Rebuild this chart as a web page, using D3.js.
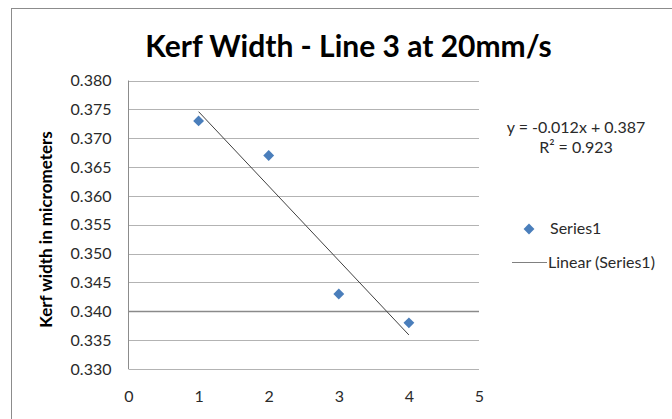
<!DOCTYPE html>
<html>
<head>
<meta charset="utf-8">
<script src="https://cdn.jsdelivr.net/npm/d3@7"></script>
<style>
  html, body { margin: 0; padding: 0; background: #fff; }
  svg { display: block; font-family: Lato, "Open Sans", sans-serif; }
</style>
</head>
<body>
<svg id="chart" width="672" height="419"></svg>
<script>
// Measured kerf widths per sample
const samples = [1, 2, 3, 4];
const kerfWidth = [0.373, 0.367, 0.343, 0.338];
const xTicks = [0, 1, 2, 3, 4, 5];
const yTicks = [0.330, 0.335, 0.340, 0.345, 0.350, 0.355, 0.360, 0.365, 0.370, 0.375, 0.380];
const titleText = "Kerf Width - Line 3 at 20mm/s";
const yAxisTitle = "Kerf width in micrometers";
const seriesName = "Series1";
const trendName = "Linear (Series1)";

const svg = d3.select("#chart");
const plot = { left: 128.5, right: 479, top: 80.5, bottom: 369 };
const labelFont = "Lato, 'Open Sans', sans-serif";

const x = d3.scaleLinear().domain([0, 5]).range([plot.left, plot.right]);
const y = d3.scaleLinear().domain([0.330, 0.380]).range([plot.bottom, plot.top]);

// Chart frame
svg.append("rect")
  .attr("x", 11.5).attr("y", 8.5).attr("width", 700).attr("height", 500)
  .attr("fill", "#fff").attr("stroke", "#8c8c8c").attr("stroke-width", 1);

// Title
svg.append("text")
  .attr("x", 348.5).attr("y", 57)
  .attr("text-anchor", "middle")
  .attr("font-size", 30).attr("font-weight", "bold")
  .attr("fill", "#000")
  .text(titleText);

// Horizontal gridlines (the 0.340 line is drawn a little heavier)
const isAxisLine = d => Math.abs(d - 0.340) < 1e-9;
svg.append("g")
  .selectAll("line")
  .data(yTicks)
  .join("line")
  .attr("x1", plot.left).attr("x2", plot.right)
  .attr("y1", d => Math.round(y(d)) + 0.5).attr("y2", d => Math.round(y(d)) + 0.5)
  .attr("stroke", d => isAxisLine(d) ? "#8a8a8a" : "#b3b3b3")
  .attr("stroke-width", d => isAxisLine(d) ? 1.6 : 1);

// Vertical axis line
svg.append("line")
  .attr("x1", plot.left).attr("x2", plot.left)
  .attr("y1", plot.top).attr("y2", plot.bottom)
  .attr("stroke", "#8c8c8c").attr("stroke-width", 1);

// Y axis tick labels
const yAxis = d3.axisLeft(y).tickValues(yTicks).tickFormat(d3.format(".3f")).tickSize(0).tickPadding(17);
const gy = svg.append("g").attr("transform", `translate(${plot.left},0)`).call(yAxis);
gy.select(".domain").remove();
gy.selectAll("text").attr("font-size", 16).attr("fill", "#2a2a2a").attr("font-family", labelFont);

// X axis tick labels
const xAxis = d3.axisBottom(x).tickValues(xTicks).tickFormat(d3.format("d")).tickSize(0).tickPadding(21.5);
const gx = svg.append("g").attr("transform", `translate(0,${plot.bottom})`).call(xAxis);
gx.select(".domain").remove();
gx.selectAll("text").attr("font-size", 16).attr("fill", "#2a2a2a").attr("font-family", labelFont);

// Y axis title
svg.append("text")
  .attr("transform", `translate(52,229.5) rotate(-90)`)
  .attr("text-anchor", "middle")
  .attr("font-size", 17).attr("font-weight", "bold")
  .attr("fill", "#000")
  .text(yAxisTitle);

// Least-squares linear trend
const mx = d3.mean(samples), my = d3.mean(kerfWidth);
const slope = d3.sum(samples, (s, i) => (s - mx) * (kerfWidth[i] - my)) / d3.sum(samples, s => (s - mx) ** 2);
const intercept = my - slope * mx;
const ssTot = d3.sum(kerfWidth, v => (v - my) ** 2);
const ssRes = d3.sum(samples, (s, i) => (kerfWidth[i] - (intercept + slope * s)) ** 2);
const r2 = 1 - ssRes / ssTot;

const xMin = d3.min(samples), xMax = d3.max(samples);
svg.append("line")
  .attr("x1", x(xMin)).attr("y1", y(intercept + slope * xMin))
  .attr("x2", x(xMax)).attr("y2", y(intercept + slope * xMax))
  .attr("stroke", "#404040").attr("stroke-width", 1);

// Data markers (diamonds)
const diamond = d3.symbol().type(d3.symbolDiamond2).size(75);
svg.append("g")
  .selectAll("path")
  .data(samples.map((s, i) => ({ s, v: kerfWidth[i] })))
  .join("path")
  .attr("transform", d => `translate(${x(d.s)},${y(d.v)})`)
  .attr("d", diamond)
  .attr("fill", "#4a7ebb");

// Trendline equation, coefficients cut to three decimals
const cut3 = v => (Math.trunc(v * 1000) / 1000).toFixed(3);
const eqX = 576;
svg.append("text")
  .attr("x", eqX).attr("y", 133)
  .attr("text-anchor", "middle").attr("font-size", 16).attr("fill", "#2a2a2a")
  .text(`y = ${cut3(slope)}x + ${cut3(intercept)}`);
svg.append("text")
  .attr("x", eqX).attr("y", 153)
  .attr("text-anchor", "middle").attr("font-size", 16).attr("fill", "#2a2a2a")
  .text(`R² = ${cut3(r2)}`);

// Legend
const lg = svg.append("g");
lg.append("path")
  .attr("transform", "translate(529,229)")
  .attr("d", diamond)
  .attr("fill", "#4a7ebb");
lg.append("text")
  .attr("x", 550).attr("y", 234)
  .attr("font-size", 16).attr("fill", "#2a2a2a")
  .text(seriesName);
lg.append("line")
  .attr("x1", 512).attr("x2", 547).attr("y1", 262.5).attr("y2", 262.5)
  .attr("stroke", "#808080").attr("stroke-width", 1);
lg.append("text")
  .attr("x", 548).attr("y", 268)
  .attr("font-size", 16).attr("fill", "#2a2a2a")
  .text(trendName);
</script>
</body>
</html>
